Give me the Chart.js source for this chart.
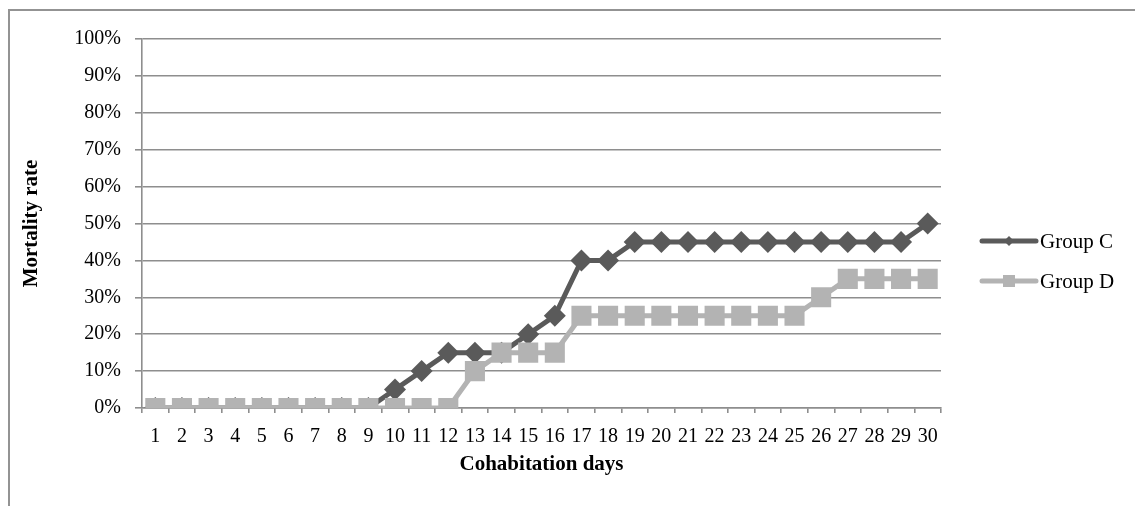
<!DOCTYPE html>
<html>
<head>
<meta charset="utf-8">
<script src="https://cdn.jsdelivr.net/npm/chart.js@4"></script>
<style>
  html, body { margin: 0; padding: 0; background: #fff; }
  #wrap { position: relative; width: 1135px; height: 506px; overflow: hidden; }
  #frame { position: absolute; left: 8px; top: 9px; width: 1200px; height: 600px;
           border: 2px solid #939393; box-sizing: border-box; }
  canvas { position: absolute; left: 0; top: 0; }
</style>
</head>
<body>
<div id="wrap">
  <div id="frame"></div>
  <canvas id="c" width="1135" height="506"></canvas>
</div>
<script>
// Cohabitation days 1..30
const days = Array.from({ length: 30 }, (_, i) => String(i + 1));
// Cumulative mortality (%) per day
const groupC = [0, 0, 0, 0, 0, 0, 0, 0, 0, 5, 10, 15, 15, 15, 20, 25, 40, 40, 45, 45,
                45, 45, 45, 45, 45, 45, 45, 45, 45, 50];
const groupD = [0, 0, 0, 0, 0, 0, 0, 0, 0, 0, 0, 0, 10, 15, 15, 15, 25, 25, 25, 25,
                25, 25, 25, 25, 25, 30, 35, 35, 35, 35];
const seriesNames = ['Group C', 'Group D'];
const yTicks = [0, 10, 20, 30, 40, 50, 60, 70, 80, 90, 100];

const DARK = '#5a5a5a';
const LIGHT = '#b3b3b3';
const GRID = '#8e8e8e';
const SERIF = '"Liberation Serif", "Times New Roman", serif';

// Axis titles and the series key, drawn on the canvas after the chart
const extras = {
  id: 'extras',
  afterDraw(chart) {
    const ctx = chart.ctx;
    const area = chart.chartArea;
    ctx.save();
    ctx.fillStyle = '#000';
    ctx.font = 'bold 21px ' + SERIF;
    ctx.textAlign = 'center';
    ctx.textBaseline = 'middle';
    ctx.fillText('Cohabitation days', (area.left + area.right) / 2, 465);
    ctx.translate(32, (area.top + area.bottom) / 2);
    ctx.rotate(-Math.PI / 2);
    ctx.fillText('Mortality rate', 0, 0);
    ctx.restore();

    const rows = [
      { y: 241, color: DARK, shape: 'diamond' },
      { y: 281, color: LIGHT, shape: 'square' }
    ];
    rows.forEach((r, i) => {
      ctx.save();
      ctx.strokeStyle = r.color;
      ctx.fillStyle = r.color;
      ctx.lineWidth = 5;
      ctx.lineCap = 'round';
      ctx.beginPath();
      ctx.moveTo(982, r.y);
      ctx.lineTo(1036, r.y);
      ctx.stroke();
      const cx = 1009;
      ctx.beginPath();
      if (r.shape === 'diamond') {
        ctx.moveTo(cx, r.y - 5);
        ctx.lineTo(cx + 5, r.y);
        ctx.lineTo(cx, r.y + 5);
        ctx.lineTo(cx - 5, r.y);
        ctx.closePath();
      } else {
        ctx.rect(cx - 6, r.y - 6, 12, 12);
      }
      ctx.fill();
      ctx.fillStyle = '#000';
      ctx.font = '21px ' + SERIF;
      ctx.textAlign = 'left';
      ctx.textBaseline = 'middle';
      ctx.fillText(seriesNames[i], 1040, r.y + 1);
      ctx.restore();
    });
  }
};

new Chart(document.getElementById('c'), {
  type: 'line',
  data: {
    labels: days,
    datasets: [
      {
        label: seriesNames[0],
        data: groupC,
        borderColor: DARK,
        backgroundColor: DARK,
        borderWidth: 5,
        pointStyle: 'rectRot',
        pointRadius: 11,
        pointHoverRadius: 11,
        pointBorderWidth: 0,
        pointBackgroundColor: DARK,
        tension: 0,
        order: 1
      },
      {
        label: seriesNames[1],
        data: groupD,
        borderColor: LIGHT,
        backgroundColor: LIGHT,
        borderWidth: 5,
        pointStyle: 'rect',
        pointRadius: 14.2,
        pointHoverRadius: 14.2,
        pointBorderWidth: 0,
        pointBackgroundColor: LIGHT,
        tension: 0,
        order: 0
      }
    ]
  },
  options: {
    responsive: false,
    devicePixelRatio: 1,
    animation: false,
    events: [],
    layout: { padding: { top: 39, right: 194, bottom: 0, left: 0 } },
    plugins: {
      legend: { display: false },
      tooltip: { enabled: false },
      title: { display: false }
    },
    scales: {
      x: {
        type: 'category',
        offset: true,
        grid: {
          offset: true,
          drawOnChartArea: false,
          drawTicks: true,
          tickLength: 5,
          color: GRID,
          lineWidth: 1.6
        },
        border: { display: true, color: GRID, width: 1.6 },
        ticks: {
          color: '#000',
          font: { family: SERIF, size: 20 },
          padding: 12,
          maxRotation: 0,
          autoSkip: false
        },
        afterFit(scale) { scale.height = 98; }
      },
      y: {
        min: 0,
        max: 100,
        afterBuildTicks(scale) { scale.ticks = yTicks.map(v => ({ value: v })); },
        grid: {
          drawTicks: true,
          tickLength: 7,
          color: GRID,
          lineWidth: 1.6
        },
        border: { display: true, color: GRID, width: 1.6 },
        ticks: {
          color: '#000',
          font: { family: SERIF, size: 20 },
          padding: 14,
          callback: v => v + '%'
        },
        afterFit(scale) { scale.width = 142; }
      }
    }
  },
  plugins: [extras]
});
</script>
</body>
</html>
